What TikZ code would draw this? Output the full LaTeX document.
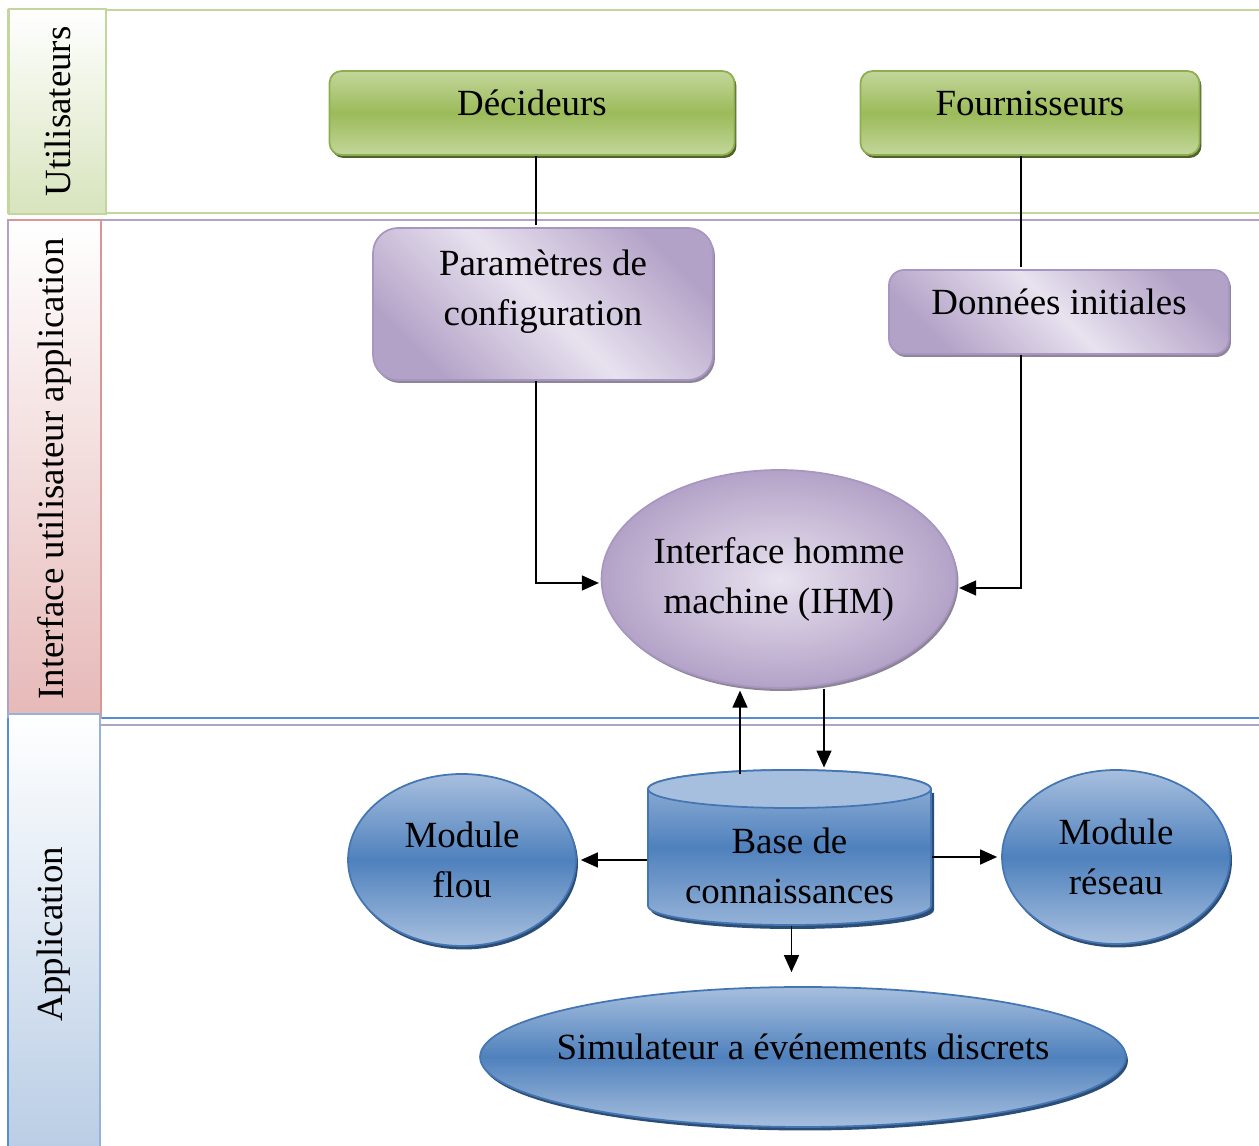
\documentclass[tikz,border=0pt]{standalone}
\usepackage{fontspec}
\setmainfont{Liberation Serif}
\usetikzlibrary{positioning,shapes.geometric,shadows,arrows.meta}

\definecolor{grnlight}{HTML}{C3D69B}
\definecolor{grnmid}{HTML}{9BBB59}
\definecolor{grnborder}{HTML}{8DAE4E}
\definecolor{grnshadow}{HTML}{4F6228}
\definecolor{purplight}{HTML}{E8E2EF}
\definecolor{purpdark}{HTML}{B3A2C7}
\definecolor{purpborder}{HTML}{A896C2}
\definecolor{purpshadow}{HTML}{8E8598}
\definecolor{bluelight}{HTML}{A7BFDE}
\definecolor{bluemid}{HTML}{4F81BD}
\definecolor{blueborder}{HTML}{4476B4}
\definecolor{blueshadow}{HTML}{2C4D75}
\definecolor{lanegreen}{HTML}{C3D69B}
\definecolor{lanegreenfill}{HTML}{D7E4BD}
\definecolor{lanepurple}{HTML}{B3A2C7}
\definecolor{lanered}{HTML}{D99694}
\definecolor{laneredfill}{HTML}{E6B9B8}
\definecolor{laneblue}{HTML}{558ED5}
\definecolor{lanebluefill}{HTML}{B9CDE5}
\definecolor{laneblueborder}{HTML}{95B3D7}

\begin{document}
\begin{tikzpicture}[x=0.02cm,y=0.02cm,thick,shorten >=1pt,
    >={Triangle[length=0.34cm,width=0.3cm]},
    every node/.style={font=\fontsize{21}{28.5}\selectfont,align=center},
    lane line/.style={line width=0.85pt},
    lane label/.style={rotate=90,inner sep=0pt,line width=1.2pt},
    one line/.style={text height=0.7em,text depth=0.38em},
    green node/.style={rectangle,rounded corners=0.24cm,draw=grnborder,line width=1pt,
      top color=grnlight,bottom color=grnlight,middle color=grnmid,
      minimum height=1.68cm,one line,
      drop shadow={shadow xshift=0.04cm,shadow yshift=-0.06cm,fill=grnshadow,opacity=1}},
    purple node/.style={rectangle,draw=purpborder,line width=1pt,
      left color=purpdark,right color=purpdark,middle color=purplight,shading angle=135,
      drop shadow={shadow xshift=0.04cm,shadow yshift=-0.06cm,fill=purpshadow,opacity=1}},
    blue node/.style={ellipse,draw=blueborder,line width=1pt,inner sep=0pt,
      top color=bluelight,bottom color=bluelight,middle color=bluemid,
      drop shadow={shadow xshift=0.04cm,shadow yshift=-0.07cm,fill=blueshadow,opacity=1}}]

  \useasboundingbox (0,0) rectangle (1259,1146);

  % lanes
  \draw[lane line,draw=lanegreen] (8,1136) rectangle (1280,933);
  \draw[lane line,draw=lanepurple] (8,926) rectangle (1280,421);
  \draw[lane line,draw=laneblue] (8,428) rectangle (1280,-20);

  \node[lane label,draw=lanegreen,top color=white,bottom color=lanegreenfill,
        minimum width=4.1cm,minimum height=1.94cm] (l1) at (57.5,1034.5) {Utilisateurs};
  \node[lane label,draw=lanered,top color=white,bottom color=laneredfill,
        minimum width=9.96cm,minimum height=1.86cm] (l2) at (54.5,677) {Interface utilisateur application};
  \draw[lane line,draw=lanepurple] (8,926) -- (8,428);
  \node[lane label,draw=laneblueborder,top color=white,bottom color=lanebluefill,
        minimum width=8.8cm,minimum height=1.84cm] (l3) at (54,212) {Application};
  \draw[lane line,draw=laneblue] (8,428) -- (8,-20);

  % users
  \node[green node,minimum width=8.1cm] (dec) at (532,1033) {Décideurs};
  \node[green node,minimum width=6.78cm] (four) at (1030,1033) {Fournisseurs};

  % interface
  \node[purple node,rounded corners=0.5cm,minimum width=6.8cm,minimum height=3.04cm]
    (param) at (543,842) {Paramètres de\\configuration\\[-0.36cm]};
  \node[purple node,rounded corners=0.3cm,minimum width=6.8cm,minimum height=1.68cm,one line]
    (donn) at (1059,834) {Données initiales};
  \node[ellipse,draw=purpborder,line width=1pt,inner sep=0pt,inner color=purplight,outer color=purpdark,
        minimum width=7.08cm,minimum height=4.36cm,
        drop shadow={shadow xshift=0.04cm,shadow yshift=-0.06cm,fill=purpshadow,opacity=1}]
    (ihm) at (779,567) {Interface homme\\machine (IHM)};

  % knowledge base (cylinder)
  \fill[blueshadow] (651,353) -- (651,236) arc[start angle=180,end angle=360,x radius=141.5,y radius=19]
    -- (934,353) -- cycle;
  \shade[draw=blueborder,line width=1pt,top color=bluelight!85!bluemid,bottom color=bluelight!80!bluemid,middle color=bluemid]
    (648,357) -- (648,240) arc[start angle=180,end angle=360,x radius=141.5,y radius=19]
    -- (931,357) arc[start angle=0,end angle=180,x radius=141.5,y radius=19] -- cycle;
  \filldraw[fill=bluelight,draw=blueborder,line width=1pt] (789.5,357) ellipse[x radius=141.5,y radius=19];
  \node[minimum width=5.66cm,minimum height=3.1cm,inner sep=0pt,
        label={[yshift=-0.36cm]center:{Base de\\connaissances}}] (base) at (789.5,298.5) {};

  % application
  \node[blue node,minimum width=4.56cm,minimum height=3.44cm] (flou) at (462,286) {Module\\flou};
  \node[blue node,minimum width=4.56cm,minimum height=3.48cm] (reseau) at (1116,289) {Module\\réseau};
  \node[blue node,inner xsep=-0.5cm,minimum width=12.92cm,minimum height=2.8cm,one line]
    (simu) at (803,89) {Simulateur a événements discrets};

  % connectors
  \coordinate (c1) at (536,0);
  \coordinate (c2) at (1021,0);
  \coordinate (c3) at (740,0);
  \coordinate (c4) at (824,0);

  \draw (dec.south -| c1) -- (param.north -| c1);
  \draw[->] (param.south -| c1) |- ([yshift=-0.08cm]ihm.west);
  \draw (four.south -| c2) -- (donn.north -| c2);
  \draw[->] (donn.south -| c2) |- ([yshift=-0.18cm]ihm.east);
  \draw[->] ([yshift=-0.1cm]base.north -| c3) -- (ihm.south -| c3);
  \draw[->] (ihm.south -| c4) -- (base.north -| c4);
  \draw[->,shorten >=0.08cm] (base.west |- flou) -- (flou.east);
  \draw[->,shorten >=0.08cm] (base.east |- reseau) -- (reseau.west);
  \draw[->,shorten >=0.28cm] ([xshift=0.04cm]base.south) -- ([xshift=0.04cm]base.south |- simu.north);
\end{tikzpicture}
\end{document}
